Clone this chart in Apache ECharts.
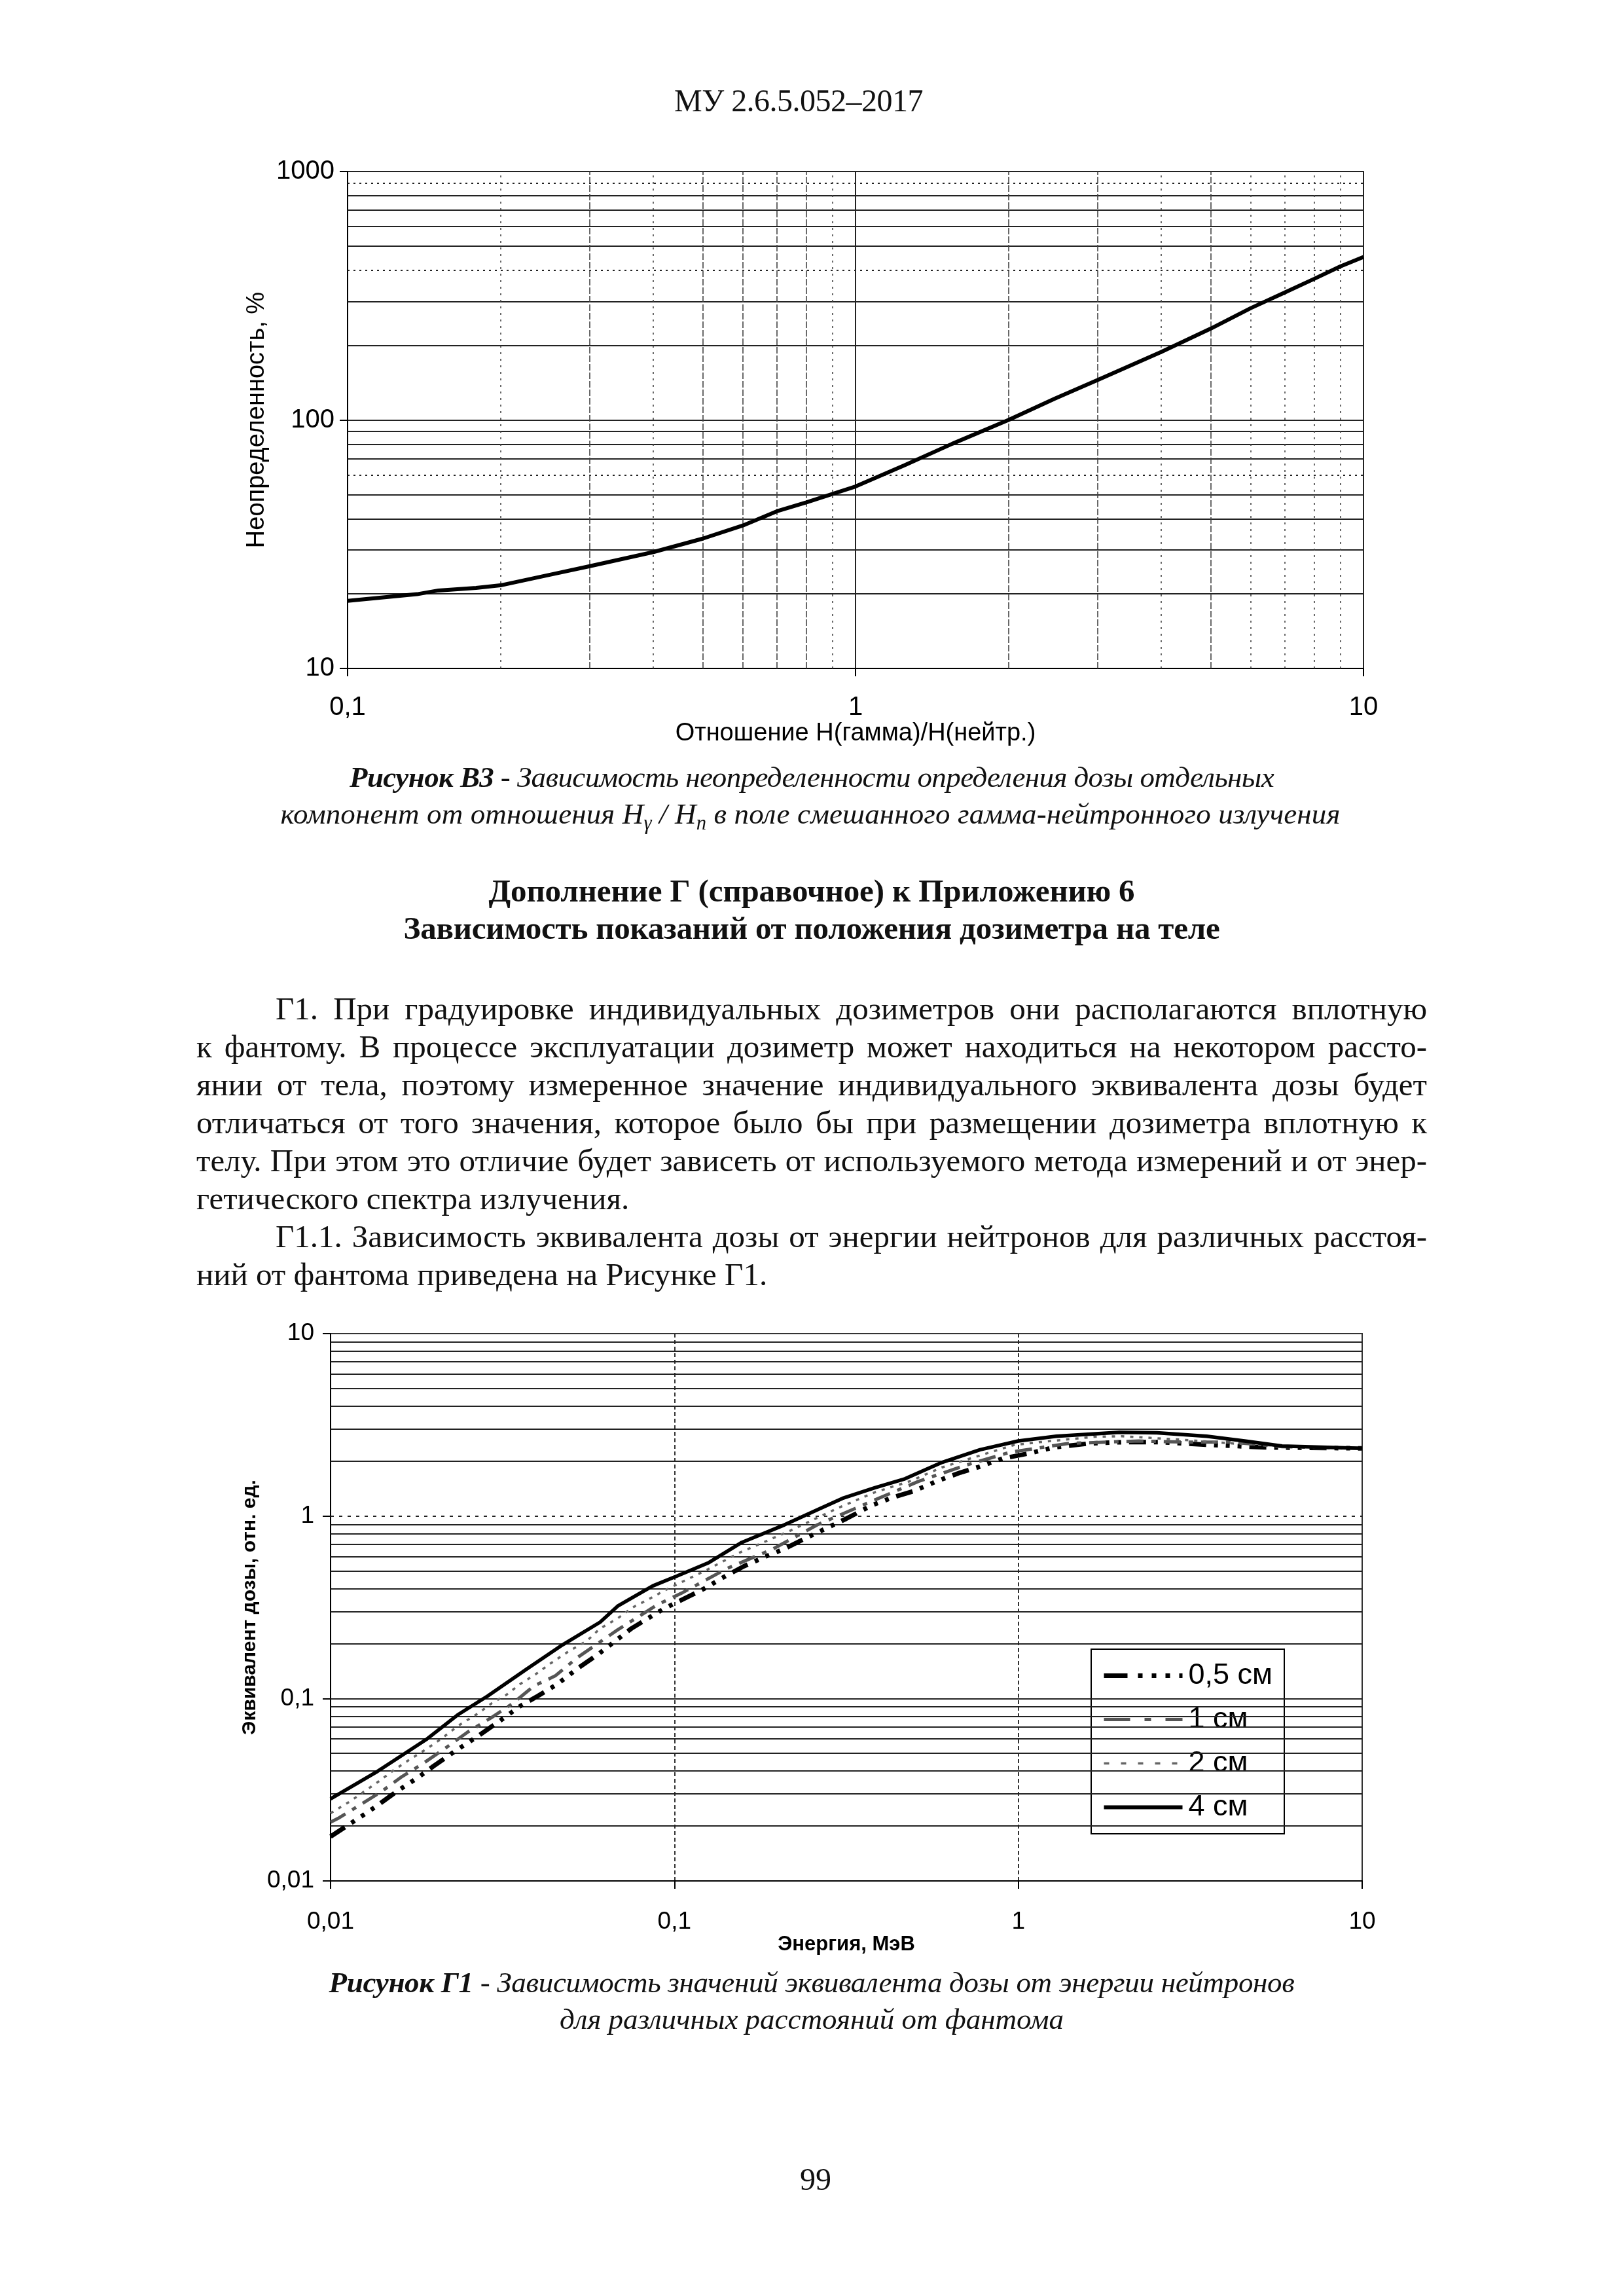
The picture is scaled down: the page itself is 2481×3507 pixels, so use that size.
<!DOCTYPE html>
<html>
<head>
<meta charset="utf-8">
<script src="https://cdn.jsdelivr.net/npm/echarts@6/dist/echarts.min.js"></script>
<style>
html,body{margin:0;padding:0;background:#fff;}
#page{position:relative;width:2481px;height:3507px;overflow:hidden;background:#fff;}
#chart{position:absolute;left:0;top:0;width:2481px;height:3507px;}
.t{position:absolute;white-space:nowrap;font-family:"Liberation Serif","Times New Roman",serif;color:#111;}
.sb{font-size:0.68em;vertical-align:-0.28em;}
</style>
</head>
<body>
<div id="page"><div id="chart"></div></div>
<script>
// ---------- Chart В3 data ----------
const ratioValues = [0.1, 0.137, 0.151, 0.179, 0.2, 0.252, 0.3, 0.4, 0.5, 0.6, 0.7, 0.8, 1.0, 1.25, 1.55, 2.0, 2.47, 3.0, 4.0, 5.0, 6.0, 7.0, 8.0, 9.0, 10];
const uncertaintyValues = [18.7, 19.9, 20.6, 21.1, 21.6, 23.9, 25.8, 29.4, 33.3, 37.6, 42.9, 46.6, 54.0, 65.8, 80.2, 100, 122, 145, 188, 233, 282, 326, 370, 415, 453];

// ---------- Chart Г1 data ----------
const energy05 = [0.01, 0.0123, 0.0136, 0.0156, 0.018, 0.0199, 0.023, 0.0268, 0.0306, 0.0356, 0.040, 0.0457, 0.0523, 0.0603, 0.0656, 0.075, 0.0859, 0.0942, 0.106, 0.124, 0.136, 0.159, 0.185, 0.209, 0.243, 0.285, 0.316, 0.377, 0.434, 0.497, 0.578, 0.678, 0.763, 0.902, 1.08, 1.27, 1.61, 2.0, 2.62, 3.53, 5.2, 10];
const dose05 = [0.0175, 0.0226, 0.0257, 0.031, 0.037, 0.0425, 0.0514, 0.0621, 0.0739, 0.0908, 0.103, 0.120, 0.146, 0.176, 0.199, 0.242, 0.283, 0.314, 0.350, 0.406, 0.452, 0.530, 0.602, 0.662, 0.762, 0.881, 0.967, 1.15, 1.27, 1.37, 1.55, 1.73, 1.85, 2.07, 2.21, 2.38, 2.50, 2.54, 2.54, 2.46, 2.38, 2.35];

const energy1 = [0.01, 0.0106, 0.0123, 0.0141, 0.016, 0.0188, 0.0219, 0.025, 0.0294, 0.0338, 0.039, 0.045, 0.0523, 0.0684, 0.0893, 0.106, 0.142, 0.194, 0.26, 0.369, 0.513, 0.71, 0.95, 1.40, 2.24, 3.14, 4.2, 5.85, 10];
const dose1 = [0.0210, 0.0222, 0.0264, 0.031, 0.0369, 0.0447, 0.0545, 0.0653, 0.0787, 0.0937, 0.117, 0.133, 0.168, 0.238, 0.327, 0.382, 0.515, 0.662, 0.894, 1.19, 1.55, 1.91, 2.24, 2.50, 2.58, 2.54, 2.54, 2.40, 2.35];

const energy2 = [0.01, 0.0114, 0.0138, 0.0153, 0.0169, 0.0188, 0.021, 0.0234, 0.0268, 0.0294, 0.0324, 0.0356, 0.0393, 0.0435, 0.0494, 0.0555, 0.0608, 0.0684, 0.0757, 0.0837, 0.0932, 0.1014, 0.124, 0.155, 0.215, 0.30, 0.383, 0.483, 0.601, 0.763, 0.97, 1.15, 1.67, 2.0, 2.99, 4.2, 5.85, 10];
const dose2 = [0.0235, 0.0273, 0.0351, 0.0406, 0.046, 0.0522, 0.0601, 0.0705, 0.0826, 0.094, 0.1045, 0.120, 0.135, 0.155, 0.182, 0.206, 0.242, 0.275, 0.316, 0.348, 0.389, 0.421, 0.506, 0.631, 0.824, 1.11, 1.35, 1.55, 1.85, 2.13, 2.45, 2.54, 2.72, 2.74, 2.62, 2.50, 2.42, 2.35];

const energy4 = [0.01, 0.0137, 0.0191, 0.0234, 0.0286, 0.0374, 0.0473, 0.0608, 0.0684, 0.0865, 0.102, 0.126, 0.157, 0.209, 0.26, 0.308, 0.383, 0.468, 0.601, 0.774, 1.0, 1.29, 1.97, 2.53, 3.53, 4.55, 5.85, 10];
const dose4 = [0.0282, 0.0399, 0.0601, 0.0812, 0.103, 0.146, 0.197, 0.262, 0.321, 0.414, 0.47, 0.556, 0.717, 0.895, 1.08, 1.25, 1.43, 1.60, 1.97, 2.31, 2.58, 2.74, 2.88, 2.86, 2.74, 2.58, 2.42, 2.35];

const seriesNames = ['0,5 см', '1 см', '2 см', '4 см'];

// gridline values
const grid1Y = [20, 30, 40, 50, 60, 70, 80, 90, 200, 300, 400, 500, 600, 700, 800, 900];
const grid1YDotted = [60, 400, 900];
const grid1X = [0.2, 0.3, 0.4, 0.5, 0.6, 0.7, 0.8, 0.9, 2, 3, 4, 5, 6, 7, 8, 9];
const grid1XDotted = [0.2, 0.4, 0.9, 4, 6, 7, 8, 9];
const grid2Y = [0.02, 0.03, 0.04, 0.05, 0.06, 0.07, 0.08, 0.09, 0.1, 0.2, 0.3, 0.4, 0.5, 0.6, 0.7, 0.8, 0.9, 1, 2, 3, 4, 5, 6, 7, 8, 9];
const grid2YDotted = [1];

const pairs = (xs, ys) => xs.map((x, i) => [x, ys[i]]);
const fmt = v => String(+Number(v).toPrecision(6)).replace('.', ',');

// line styles of the four distances
const styles = [
  {color: '#000', width: 7, type: [26, 12, 6, 12, 6, 12, 6, 12]},
  {color: '#555', width: 5, type: [26, 12, 7, 12]},
  {color: '#666', width: 3.5, type: [5, 9]},
  {color: '#000', width: 5.5, type: 'solid'}
];
const legendLineStyles = [
  {color: '#000', width: 7, type: [36, 16, 7, 14, 7, 14, 7, 14]},
  {color: '#555', width: 5, type: [40, 22, 10, 22]},
  {color: '#666', width: 3.5, type: [8, 18]},
  {color: '#000', width: 6, type: 'solid'}
];

const chart = echarts.init(document.getElementById('chart'), null, {renderer: 'canvas', width: 2481, height: 3507});

const axisCommon = {
  type: 'log', logBase: 10,
  axisLine: {show: true, lineStyle: {color: '#000', width: 2}},
  axisTick: {show: true, length: 12, lineStyle: {color: '#000', width: 2}},
  minorTick: {show: false},
  nameLocation: 'middle'
};

const option = {
  animation: false,
  backgroundColor: 'transparent',
  grid: [
    {left: 531, top: 262, width: 1552, height: 759, show: true, borderColor: '#333', borderWidth: 2, backgroundColor: 'transparent'},
    {left: 505, top: 2037, width: 1576, height: 836, show: true, borderColor: '#333', borderWidth: 2, backgroundColor: 'transparent'}
  ],
  xAxis: [
    Object.assign({}, axisCommon, {
      gridIndex: 0, min: 0.1, max: 10,
      axisLabel: {formatter: fmt, fontSize: 40, color: '#000', fontFamily: 'Liberation Sans', margin: 40},
      splitLine: {show: true, lineStyle: {color: '#222', width: 2}},
      name: 'Отношение Н(гамма)/Н(нейтр.)', nameGap: 80,
      nameTextStyle: {fontSize: 38, color: '#000', fontFamily: 'Liberation Sans'}
    }),
    Object.assign({}, axisCommon, {
      gridIndex: 1, min: 0.01, max: 10,
      axisLabel: {formatter: fmt, fontSize: 37, color: '#000', fontFamily: 'Liberation Sans', margin: 44},
      splitLine: {show: true, lineStyle: {color: '#333', width: 2, type: [6, 4]}},
      name: 'Энергия, МэВ', nameGap: 72,
      nameTextStyle: {fontSize: 31, fontWeight: 'bold', color: '#000', fontFamily: 'Liberation Sans'}
    })
  ],
  yAxis: [
    Object.assign({}, axisCommon, {
      gridIndex: 0, min: 10, max: 1000,
      axisLabel: {formatter: fmt, fontSize: 40, color: '#000', fontFamily: 'Liberation Sans', margin: 20},
      splitLine: {show: true, lineStyle: {color: '#222', width: 2}},
      name: 'Неопределенность, %', nameGap: 114, nameRotate: 90,
      nameTextStyle: {fontSize: 38, color: '#000', fontFamily: 'Liberation Sans'}
    }),
    Object.assign({}, axisCommon, {
      gridIndex: 1, min: 0.01, max: 10,
      axisLabel: {formatter: fmt, fontSize: 37, color: '#000', fontFamily: 'Liberation Sans', margin: 25},
      splitLine: {show: false},
      name: 'Эквивалент дозы, отн. ед.', nameGap: 96, nameRotate: 90,
      nameTextStyle: {fontSize: 30, fontWeight: 'bold', color: '#000', fontFamily: 'Liberation Sans'}
    })
  ],
  legend: {
    data: seriesNames.map((n, i) => ({
      name: n,
      lineStyle: legendLineStyles[i],
      itemStyle: {color: 'rgba(0,0,0,0)', borderColor: 'rgba(0,0,0,0)', borderWidth: 0, opacity: 0}
    })),
    orient: 'vertical', left: 1667, top: 2519,
    backgroundColor: '#fff', borderColor: '#000', borderWidth: 2,
    padding: [18, 18, 18, 16],
    itemWidth: 120, itemHeight: 40, itemGap: 22,
    itemStyle: {color: 'rgba(0,0,0,0)', borderColor: 'rgba(0,0,0,0)', borderWidth: 0, opacity: 0},
    textStyle: {fontSize: 45, lineHeight: 40, color: '#000', fontFamily: 'Liberation Sans', padding: [0, 0, 0, 4]},
    selectedMode: false
  },
  series: [
    {
      name: 'grid1', type: 'line', xAxisIndex: 0, yAxisIndex: 0, data: [], silent: true, z: 1,
      markLine: {
        silent: true, symbol: ['none', 'none'], label: {show: false}, animation: false,
        emphasis: {disabled: true},
        data: grid1Y.map(v => ({yAxis: v, lineStyle: {color: '#222', width: 2, type: grid1YDotted.includes(v) ? [3, 6] : 'solid'}}))
          .concat(grid1X.map(v => ({xAxis: v, lineStyle: {color: '#444', width: 1.6, type: grid1XDotted.includes(v) ? [3, 7] : [10, 3]}})))
      }
    },
    {
      name: 'grid2', type: 'line', xAxisIndex: 1, yAxisIndex: 1, data: [], silent: true, z: 1,
      markLine: {
        silent: true, symbol: ['none', 'none'], label: {show: false}, animation: false,
        emphasis: {disabled: true},
        data: grid2Y.map(v => ({yAxis: v, lineStyle: {color: '#222', width: 2, type: grid2YDotted.includes(v) ? [5, 8] : 'solid'}}))
      }
    },
    {
      name: 'Неопределенность', type: 'line', xAxisIndex: 0, yAxisIndex: 0,
      data: pairs(ratioValues, uncertaintyValues), symbol: 'none', z: 5,
      lineStyle: {color: '#000', width: 6}
    },
    {
      name: seriesNames[0], type: 'line', xAxisIndex: 1, yAxisIndex: 1,
      data: pairs(energy05, dose05), symbol: 'none', z: 5, color: styles[0].color,
      lineStyle: styles[0]
    },
    {
      name: seriesNames[1], type: 'line', xAxisIndex: 1, yAxisIndex: 1,
      data: pairs(energy1, dose1), symbol: 'none', z: 5, color: styles[1].color,
      lineStyle: styles[1]
    },
    {
      name: seriesNames[2], type: 'line', xAxisIndex: 1, yAxisIndex: 1,
      data: pairs(energy2, dose2), symbol: 'none', z: 5, color: styles[2].color,
      lineStyle: styles[2]
    },
    {
      name: seriesNames[3], type: 'line', xAxisIndex: 1, yAxisIndex: 1,
      data: pairs(energy4, dose4), symbol: 'none', z: 6, color: styles[3].color,
      lineStyle: styles[3]
    }
  ]
};
chart.setOption(option);

// ---------- page text ----------
const pageLines = [
  {html: 'МУ 2.6.5.052–2017', cx: 1220, cy: 154, size: 48, width: 380},
  {html: '<b>Рисунок В3</b> - Зависимость неопределенности определения дозы отдельных', cx: 1240, cy: 1187, size: 45, italic: true, width: 1412},
  {html: 'компонент от отношения H<span class="sb">γ</span> / H<span class="sb">n</span> в поле смешанного гамма-нейтронного излучения', cx: 1238, cy: 1243, size: 45, italic: true, width: 1619},
  {html: 'Дополнение Г (справочное) к Приложению 6', cx: 1240, cy: 1360, size: 49, bold: true, width: 987},
  {html: 'Зависимость показаний от положения дозиметра на теле', cx: 1240, cy: 1417, size: 49, bold: true, width: 1247},
  {html: 'Г1. При градуировке индивидуальных дозиметров они располагаются вплотную', x: 421, cy: 1540, size: 49, width: 1759, justify: true},
  {html: 'к фантому. В процессе эксплуатации дозиметр может находиться на некотором рассто-', x: 300, cy: 1598, size: 49, width: 1880, justify: true},
  {html: 'янии от тела, поэтому измеренное значение индивидуального эквивалента дозы будет', x: 300, cy: 1656, size: 49, width: 1880, justify: true},
  {html: 'отличаться от того значения, которое было бы при размещении дозиметра вплотную к', x: 300, cy: 1714, size: 49, width: 1880, justify: true},
  {html: 'телу. При этом это отличие будет зависеть от используемого метода измерений и от энер-', x: 300, cy: 1772, size: 49, width: 1880, justify: true},
  {html: 'гетического спектра излучения.', x: 300, cy: 1830, size: 49},
  {html: 'Г1.1. Зависимость эквивалента дозы от энергии нейтронов для различных расстоя-', x: 421, cy: 1888, size: 49, width: 1759, justify: true},
  {html: 'ний от фантома приведена на Рисунке Г1.', x: 300, cy: 1946, size: 49},
  {html: '<b>Рисунок Г1</b> - Зависимость значений эквивалента дозы от энергии нейтронов', cx: 1240, cy: 3028, size: 45, italic: true, width: 1475},
  {html: 'для различных расстояний от фантома', cx: 1240, cy: 3084, size: 45, italic: true, width: 770},
  {html: '99', cx: 1246, cy: 3329, size: 48}
];

const page = document.getElementById('page');
const els = pageLines.map(spec => {
  const d = document.createElement('div');
  d.className = 't';
  d.innerHTML = spec.html;
  d.style.fontSize = spec.size + 'px';
  d.style.lineHeight = Math.round(spec.size * 1.2) + 'px';
  if (spec.bold) d.style.fontWeight = 'bold';
  if (spec.italic) d.style.fontStyle = 'italic';
  page.appendChild(d);
  return d;
});

function layoutText() {
  pageLines.forEach((spec, i) => {
    const d = els[i];
    d.style.wordSpacing = '0px';
    d.style.letterSpacing = '0px';
    let w = d.getBoundingClientRect().width;
    if (spec.width) {
      const txt = d.textContent;
      const spaces = (txt.match(/ /g) || []).length;
      if (spec.justify && w <= spec.width && spaces > 0) {
        d.style.wordSpacing = ((spec.width - w) / spaces) + 'px';
      } else {
        d.style.letterSpacing = ((spec.width - w) / txt.length) + 'px';
      }
      w = spec.width;
    }
    const left = (spec.cx !== undefined) ? spec.cx - w / 2 : spec.x;
    d.style.left = left + 'px';
    d.style.top = (spec.cy - Math.round(spec.size * 1.2) / 2) + 'px';
  });
}
layoutText();
if (document.fonts && document.fonts.ready) document.fonts.ready.then(layoutText);
</script>
</body>
</html>
